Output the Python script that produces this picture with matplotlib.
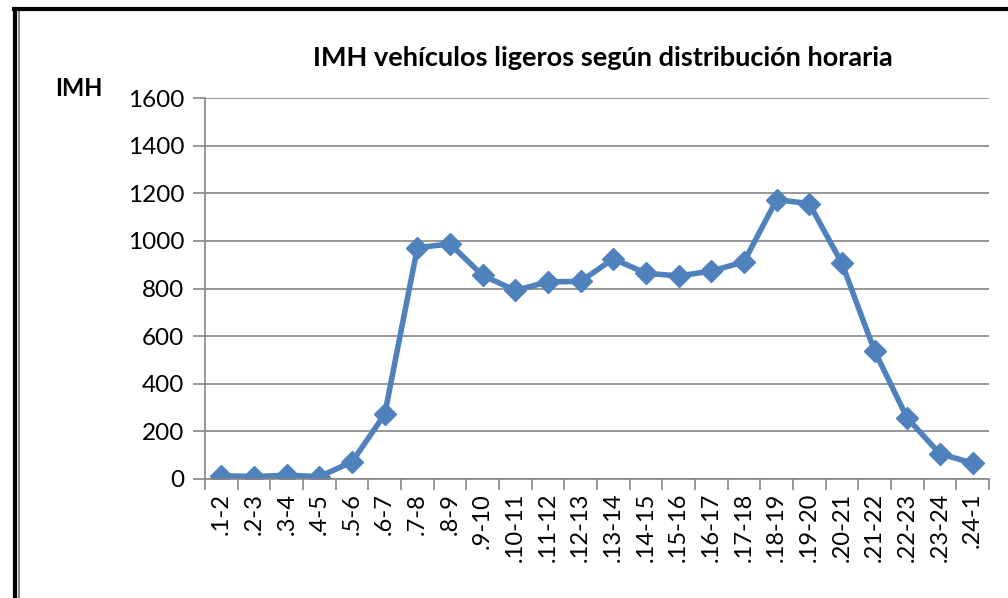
import matplotlib.pyplot as plt
from matplotlib.lines import Line2D

# hourly intervals and IMH values
franjas = [".1-2", ".2-3", ".3-4", ".4-5", ".5-6", ".6-7", ".7-8", ".8-9",
           ".9-10", ".10-11", ".11-12", ".12-13", ".13-14", ".14-15", ".15-16",
           ".16-17", ".17-18", ".18-19", ".19-20", ".20-21", ".21-22", ".22-23",
           ".23-24", ".24-1"]
imh = [14, 10, 16, 10, 72, 272, 972, 987, 855, 792, 828, 830, 925, 864, 853,
       873, 912, 1173, 1157, 906, 538, 256, 106, 67]

plt.rcParams['font.family'] = ['Lato', 'DejaVu Sans']

fig = plt.figure(figsize=(10.08, 5.98), dpi=100)
ax = fig.add_axes([0.2035, 0.199, 0.7775, 0.637])

x = list(range(len(franjas)))
ax.plot(x, imh, color='#4F81BD', linewidth=4, marker='D', markersize=11,
        markeredgecolor='#4F81BD', markerfacecolor='#4F81BD')

ax.set_xlim(-0.5, len(franjas) - 0.5)
ax.set_ylim(0, 1600)
ax.set_yticks(range(0, 1601, 200))
ax.grid(axis='y', color='#868686', linewidth=1.2)
ax.set_axisbelow(True)

ax.set_xticks(x)
ax.set_xticklabels(franjas, rotation=90, fontsize=17)
ax.tick_params(axis='x', length=0, pad=10)
ax.set_xticks([i - 0.5 for i in range(len(franjas) + 1)], minor=True)
ax.tick_params(axis='x', which='minor', length=8, width=1.2, color='#868686')
ax.tick_params(axis='y', labelsize=17.5, length=9, width=1.2, color='#868686', pad=6)

for s in ['top', 'right']:
    ax.spines[s].set_visible(False)
for s in ['left', 'bottom']:
    ax.spines[s].set_color('#868686')
    ax.spines[s].set_linewidth(1.2)

fig.text(0.598, 0.903, "IMH vehículos ligeros según distribución horaria",
         ha='center', va='center', fontsize=19.5, fontweight='bold')
fig.text(0.078, 0.852, "IMH", ha='center', va='center', fontsize=17, fontweight='bold')

# frame around the chart
fig.add_artist(Line2D([0.015, 0.015], [0, 0.985], color='black', linewidth=3))
fig.add_artist(Line2D([0.019, 0.019], [0, 0.98], color='#888888', linewidth=1.5))
fig.add_artist(Line2D([0.014, 1], [0.985, 0.985], color='black', linewidth=3))

fig.savefig("out.png", dpi=100)
